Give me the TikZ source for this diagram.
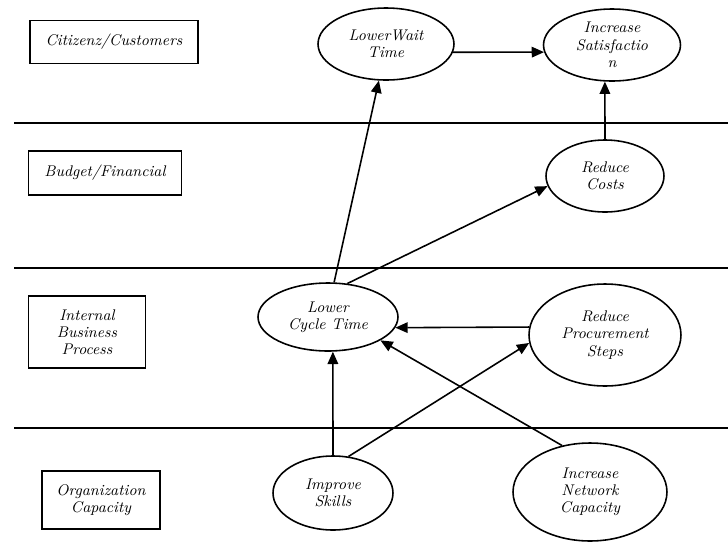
\documentclass[tikz,border=0pt]{standalone}
\usepackage{tikz}
\usetikzlibrary{shapes.geometric,arrows.meta}
\tikzset
{
    goalnode/.style = {ellipse, draw=black, line width=0.9pt, inner sep=0pt, align=center, font=\fontsize{8.8}{9.8}\selectfont\itshape},
    lanebox/.style  = {rectangle, draw=black, line width=0.8pt, inner sep=0pt, align=center, font=\fontsize{8.8}{9.8}\selectfont\itshape},
    laneline/.style = {line width=0.9pt},
    goalarrow/.style = {line width=0.9pt, -{Triangle[length=7pt,width=6pt]}}
}
\begin{document}
\begin{tikzpicture}[x=0.02cm, y=-0.02cm]
\useasboundingbox (0,0) rectangle (728,542);
% lanes
\draw[laneline] (14,123) -- (728,123);
\draw[laneline] (14,268) -- (728,268);
\draw[laneline] (14,428) -- (728,428);
\node[lanebox, minimum width=3.36cm, minimum height=0.86cm] (cust) at (114,42) {Citizenz/Customers};
\node[lanebox, minimum width=3.06cm, minimum height=0.88cm] (fin) at (105,173) {Budget/Financial};
\node[lanebox, minimum width=2.34cm, minimum height=1.44cm] (proc) at (87,332) {Internal\\Business\\Process};
\node[lanebox, minimum width=2.36cm, minimum height=1.16cm] (org) at (101,500) {Organization\\Capacity};
% goals
\node[goalnode, minimum width=2.72cm, minimum height=1.44cm] (lwt) at (386,44) {LowerWait\\Time};
\node[goalnode, minimum width=2.74cm, minimum height=1.44cm] (isat) at (612,45) {Increase\\Satisfactio\\n};
\node[goalnode, minimum width=2.36cm, minimum height=1.44cm] (rc) at (605,176) {Reduce\\Costs};
\node[goalnode, minimum width=2.80cm, minimum height=1.36cm] (lct) at (328,317) {Lower\\Cycle Time};
\node[goalnode, minimum width=3.04cm, minimum height=2.04cm] (rps) at (605,335) {Reduce\\Procurement\\Steps};
\node[goalnode, minimum width=2.40cm, minimum height=1.48cm] (isk) at (333,493) {Improve\\Skills};
\node[goalnode, minimum width=3.08cm, minimum height=1.96cm] (inc) at (590,492) {Increase\\Network\\Capacity};
% links
\draw[goalarrow] (lct.80) -- (lwt.259);
\draw[goalarrow] (lct.60) -- (rc.190);
\draw[goalarrow] (lwt.353) -- (isat.186);
\draw[goalarrow] (rc.north) -- (isat.259);
\draw[goalarrow] (rps.174) -- (lct.351);
\draw[goalarrow] (isk.north) -- (lct.278);
\draw[goalarrow] (isk.67) -- (rps.186);
\draw[goalarrow] (inc.121) -- (lct.336);
\end{tikzpicture}
\end{document}
